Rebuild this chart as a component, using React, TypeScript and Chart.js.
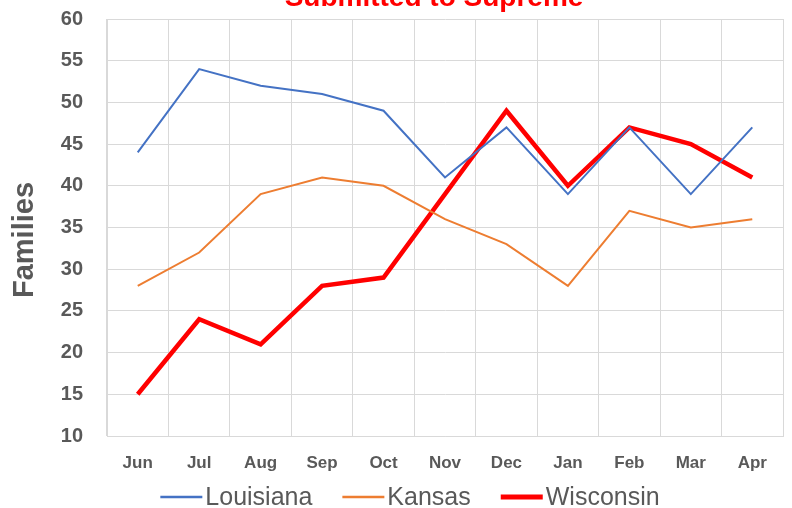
import { useEffect, useRef } from "react";
import { Chart, registerables } from "chart.js";

Chart.register(...registerables);

const months = ["Jun", "Jul", "Aug", "Sep", "Oct", "Nov", "Dec", "Jan", "Feb", "Mar", "Apr"];
const louisiana = [44, 54, 52, 51, 49, 41, 47, 39, 47, 39, 47];
const kansas = [28, 32, 39, 41, 40, 36, 33, 28, 37, 35, 36];
const wisconsin = [15, 24, 21, 28, 29, 39, 49, 40, 47, 45, 41];
const seriesNames = ["Louisiana", "Kansas", "Wisconsin"];
const titleText = "Submitted to Supreme";
const yTitle = "Families";
const yMin = 10;
const yMax = 60;
const yStep = 5;

const FONT = "'Liberation Sans', Arial, sans-serif";
const GRAY = "#595959";

const textPlugin = {
  id: "extraText",
  afterDraw(chart: any) {
    const ctx = chart.ctx;
    ctx.save();
    ctx.font = `bold 28px ${FONT}`;
    ctx.fillStyle = "#FF0000";
    ctx.textAlign = "center";
    ctx.textBaseline = "alphabetic";
    ctx.fillText(titleText, 434, 6);
    ctx.restore();

    ctx.save();
    ctx.translate(25, 240);
    ctx.rotate(-Math.PI / 2);
    ctx.font = `bold 29px ${FONT}`;
    ctx.fillStyle = GRAY;
    ctx.textAlign = "center";
    ctx.textBaseline = "middle";
    ctx.fillText(yTitle, 0, 0);
    ctx.restore();
  },
};

const legendPlugin = {
  id: "customLegend",
  afterDraw(chart: any) {
    const ctx = chart.ctx;
    ctx.save();
    ctx.font = `25px ${FONT}`;
    const lineW = 42;
    const gap = 3;
    const itemGap = 30;
    const ds = chart.data.datasets;
    const widths = ds.map((d: any) => lineW + gap + ctx.measureText(d.label).width);
    const total = widths.reduce((a: number, b: number) => a + b, 0) + itemGap * (ds.length - 1);
    let x = 410 - total / 2;
    const yLine = 497;
    const yText = 505;
    ds.forEach((d: any, i: number) => {
      ctx.strokeStyle = d.borderColor;
      ctx.lineWidth = d.label === "Wisconsin" ? 5 : 2.5;
      ctx.beginPath();
      ctx.moveTo(x, yLine);
      ctx.lineTo(x + lineW, yLine);
      ctx.stroke();
      ctx.fillStyle = GRAY;
      ctx.textAlign = "left";
      ctx.textBaseline = "alphabetic";
      ctx.fillText(d.label, x + lineW + gap, yText);
      x += widths[i] + itemGap;
    });
    ctx.restore();
  },
};

export default function App() {
  const ref = useRef<HTMLCanvasElement | null>(null);

  useEffect(() => {
    if (!ref.current) return;
    const chart = new Chart(ref.current, {
      type: "line",
      data: {
        labels: months,
        datasets: [
          { label: seriesNames[0], data: louisiana, borderColor: "#4472C4", backgroundColor: "#4472C4", borderWidth: 2, pointRadius: 0, tension: 0 },
          { label: seriesNames[1], data: kansas, borderColor: "#ED7D31", backgroundColor: "#ED7D31", borderWidth: 2, pointRadius: 0, tension: 0 },
          { label: seriesNames[2], data: wisconsin, borderColor: "#FF0000", backgroundColor: "#FF0000", borderWidth: 4.5, pointRadius: 0, tension: 0 },
        ],
      },
      options: {
        responsive: false,
        animation: false,
        layout: { padding: { top: 19, right: 9, bottom: 0, left: 0 } },
        plugins: {
          legend: { display: false },
          title: { display: false },
          tooltip: { enabled: false },
        },
        scales: {
          x: {
            type: "category",
            offset: true,
            grid: { offset: true, color: "#D9D9D9", lineWidth: 1, drawTicks: false },
            border: { color: "#D9D9D9" },
            ticks: { color: GRAY, font: { family: FONT, size: 17, weight: "bold" }, padding: 17, maxRotation: 0, autoSkip: false },
            afterFit(scale: any) { scale.height = 72; },
          },
          y: {
            min: yMin,
            max: yMax,
            grid: { color: "#D9D9D9", lineWidth: 1, drawTicks: false },
            border: { color: "#D9D9D9" },
            ticks: { stepSize: yStep, color: GRAY, font: { family: FONT, size: 20, weight: "bold" }, padding: 24 },
            title: { display: false },
            afterFit(scale: any) {
              scale.width = 107;
              scale.paddingTop = 12;
              scale.paddingBottom = 12;
            },
          },
        },
      },
      plugins: [textPlugin, legendPlugin],
    });
    return () => chart.destroy();
  }, []);

  return (
    <div style={{ position: "fixed", left: 0, top: 0, width: 792, height: 508, background: "#fff" }}>
      <canvas ref={ref} width={792} height={508} style={{ display: "block" }} />
    </div>
  );
}
